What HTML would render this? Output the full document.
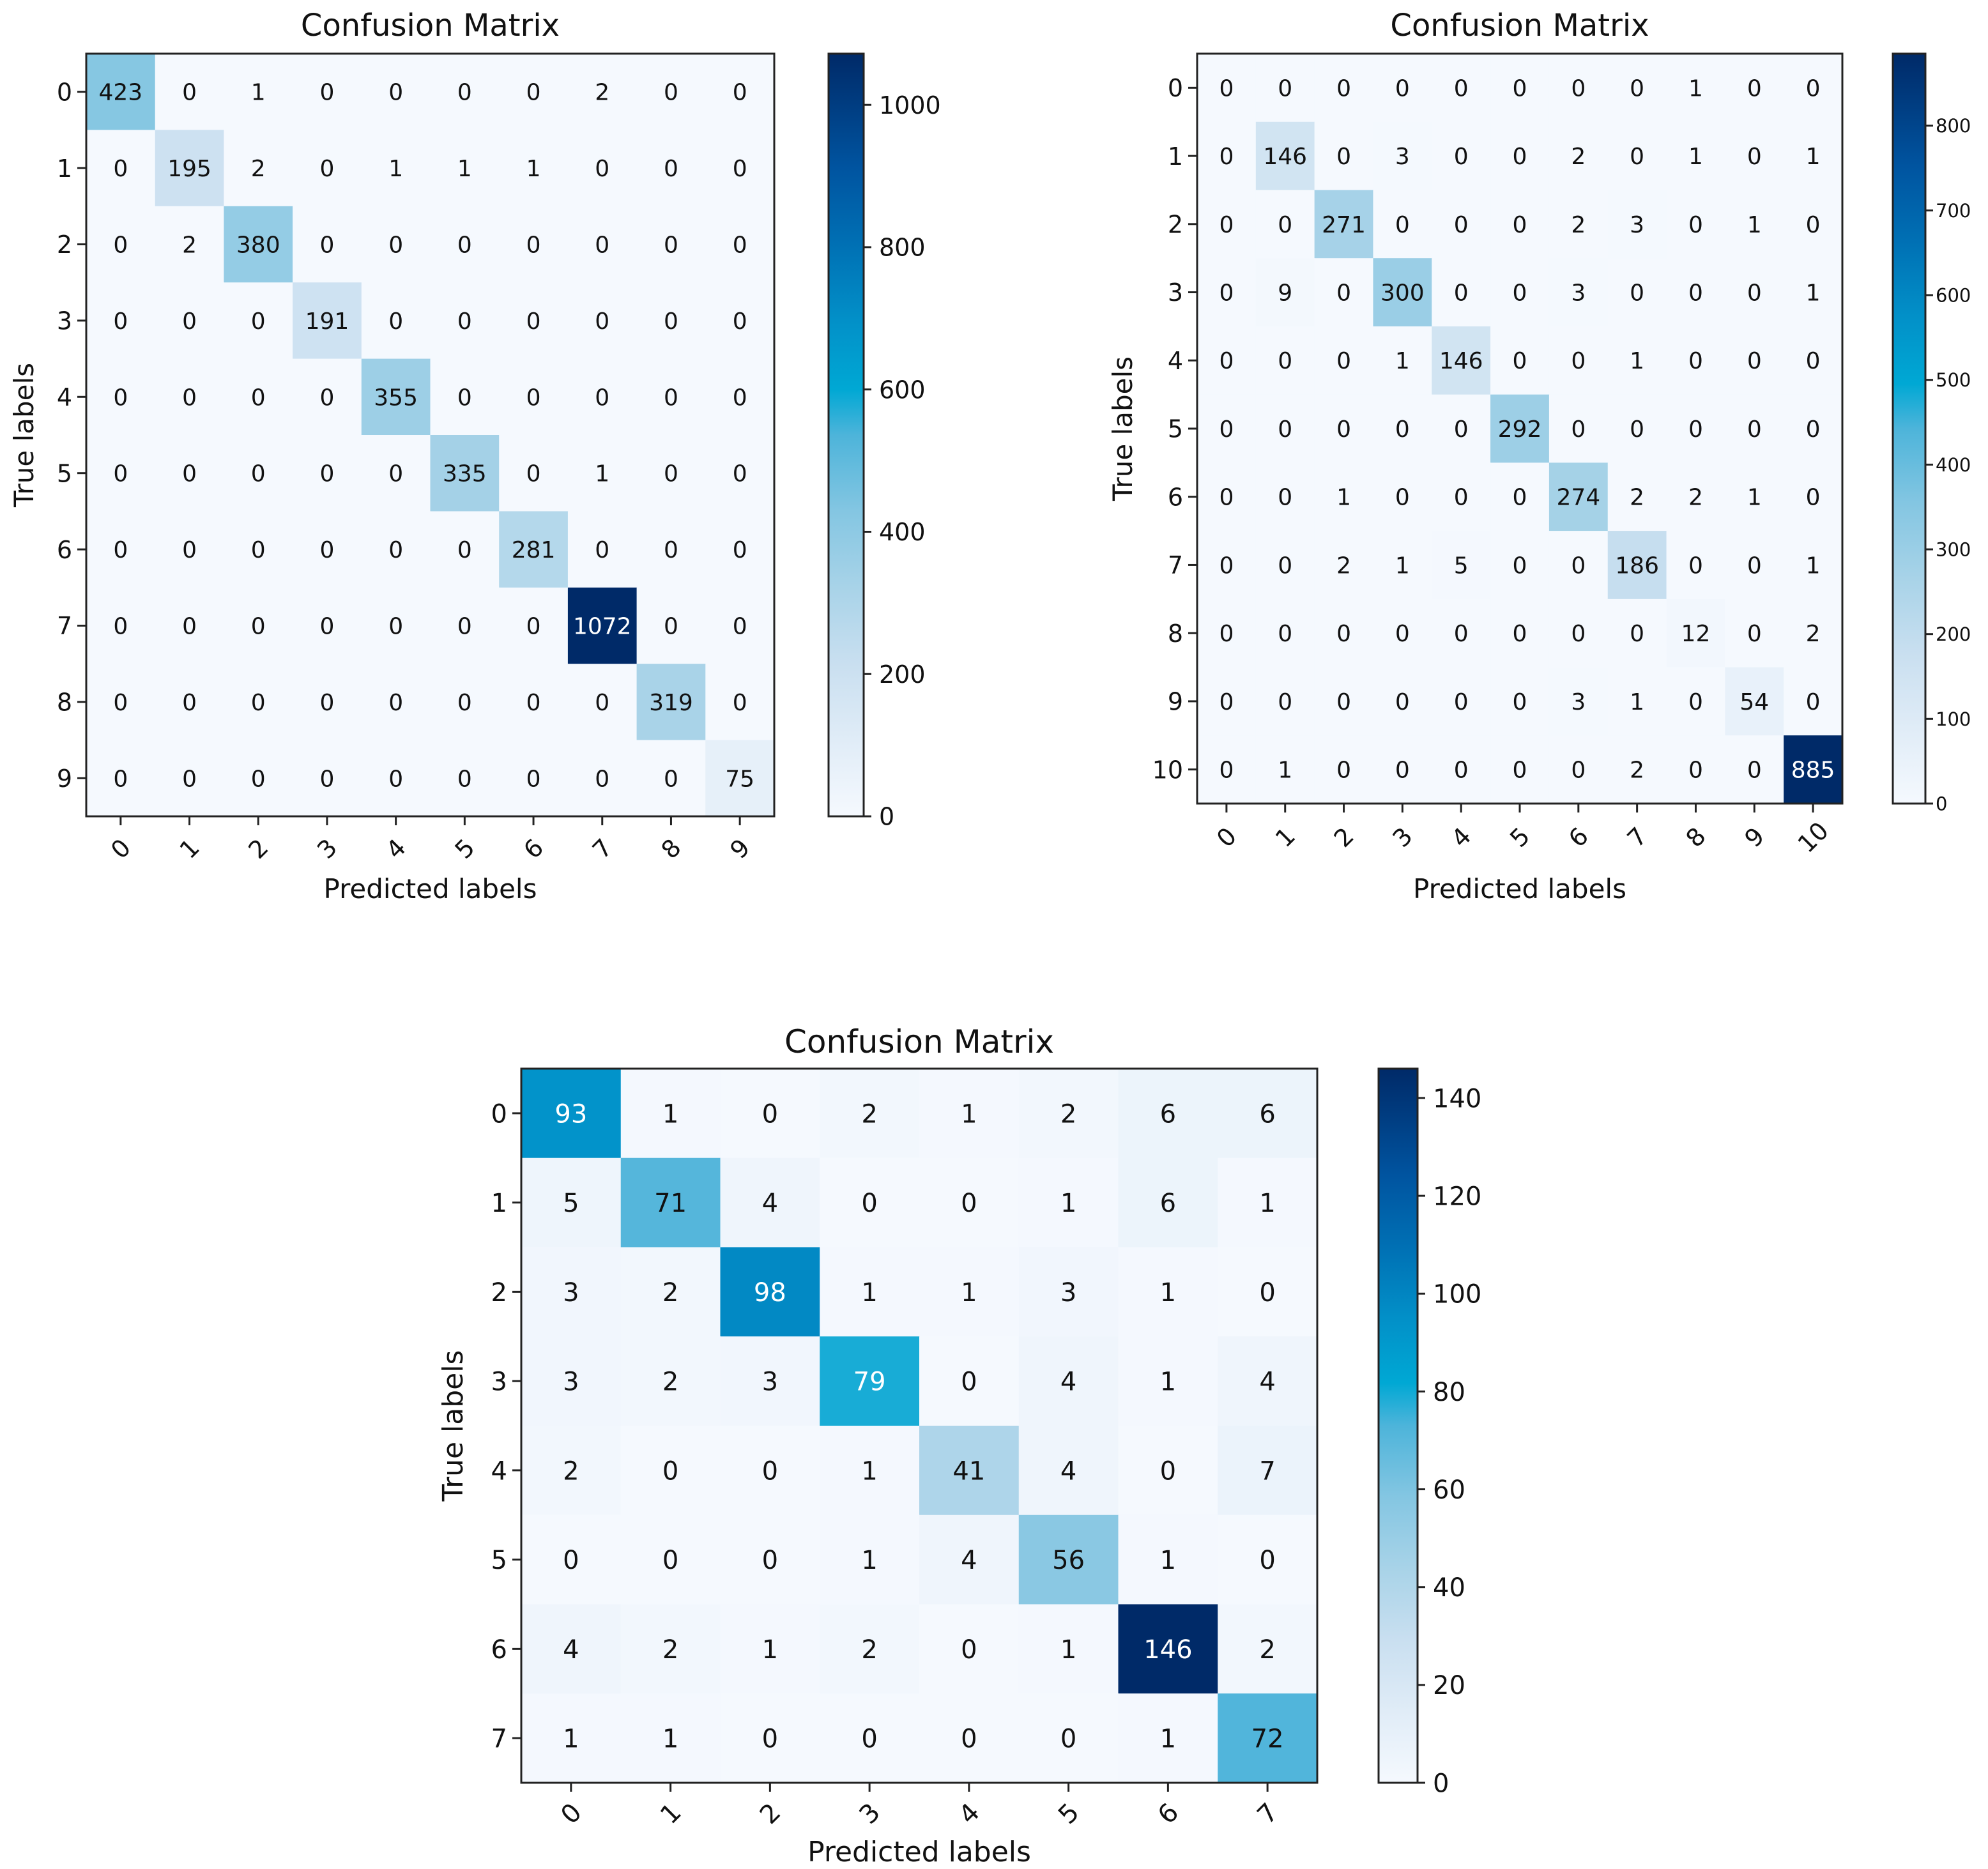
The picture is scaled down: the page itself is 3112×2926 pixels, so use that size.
<!DOCTYPE html>
<html><head><meta charset="utf-8">
<style>
html,body{margin:0;padding:0;background:#fff;}
svg{display:block;}
text{font-family:"DejaVu Sans","Liberation Sans",sans-serif;}
</style></head>
<body>
<svg id="root" width="3112" height="2926" viewBox="0 0 3112 2926" xmlns="http://www.w3.org/2000/svg">
<defs>
<linearGradient id="cmapgrad" x1="0" y1="1" x2="0" y2="0">
<stop offset="0" stop-color="#f5f9fe"/><stop offset="0.1" stop-color="#e0ecf7"/><stop offset="0.2" stop-color="#c9dff0"/>
<stop offset="0.3" stop-color="#a8d3e8"/><stop offset="0.4" stop-color="#84c6e2"/><stop offset="0.5" stop-color="#4db4da"/>
<stop offset="0.56" stop-color="#00a8d4"/><stop offset="0.65" stop-color="#0290c8"/><stop offset="0.75" stop-color="#0070b4"/>
<stop offset="0.85" stop-color="#0054a0"/><stop offset="1" stop-color="#002a68"/>
</linearGradient>
</defs>
</svg>
<script>
// ---- chart data ----
const labels1 = ["0","1","2","3","4","5","6","7","8","9"];
const matrix1 = [
[423,0,1,0,0,0,0,2,0,0],
[0,195,2,0,1,1,1,0,0,0],
[0,2,380,0,0,0,0,0,0,0],
[0,0,0,191,0,0,0,0,0,0],
[0,0,0,0,355,0,0,0,0,0],
[0,0,0,0,0,335,0,1,0,0],
[0,0,0,0,0,0,281,0,0,0],
[0,0,0,0,0,0,0,1072,0,0],
[0,0,0,0,0,0,0,0,319,0],
[0,0,0,0,0,0,0,0,0,75]];
const cbTicks1 = [0,200,400,600,800,1000];

const labels2 = ["0","1","2","3","4","5","6","7","8","9","10"];
const matrix2 = [
[0,0,0,0,0,0,0,0,1,0,0],
[0,146,0,3,0,0,2,0,1,0,1],
[0,0,271,0,0,0,2,3,0,1,0],
[0,9,0,300,0,0,3,0,0,0,1],
[0,0,0,1,146,0,0,1,0,0,0],
[0,0,0,0,0,292,0,0,0,0,0],
[0,0,1,0,0,0,274,2,2,1,0],
[0,0,2,1,5,0,0,186,0,0,1],
[0,0,0,0,0,0,0,0,12,0,2],
[0,0,0,0,0,0,3,1,0,54,0],
[0,1,0,0,0,0,0,2,0,0,885]];
const cbTicks2 = [0,100,200,300,400,500,600,700,800];

const labels3 = ["0","1","2","3","4","5","6","7"];
const matrix3 = [
[93,1,0,2,1,2,6,6],
[5,71,4,0,0,1,6,1],
[3,2,98,1,1,3,1,0],
[3,2,3,79,0,4,1,4],
[2,0,0,1,41,4,0,7],
[0,0,0,1,4,56,1,0],
[4,2,1,2,0,1,146,2],
[1,1,0,0,0,0,1,72]];
const cbTicks3 = [0,20,40,60,80,100,120,140];

const stops = [[0,[245,249,254]],[0.1,[224,236,247]],[0.2,[201,223,240]],[0.3,[168,211,232]],[0.4,[132,198,226]],[0.5,[77,180,218]],[0.56,[0,168,212]],[0.65,[2,144,200]],[0.75,[0,112,180]],[0.85,[0,84,160]],[1,[0,42,104]]];
function cmap(t){
  t=Math.max(0,Math.min(1,t));
  for(let i=1;i<stops.length;i++){
    if(t<=stops[i][0]){
      const a=stops[i-1],b=stops[i],f=(t-a[0])/(b[0]-a[0]);
      return "rgb("+a[1].map((v,k)=>Math.round(v+(b[1][k]-v)*f)).join(",")+")";
    }
  }
  return "rgb(0,42,104)";
}
const NS="http://www.w3.org/2000/svg";
const root=document.getElementById("root");
function mk(tag,attrs,parent,txt){
  const e=document.createElementNS(NS,tag);
  for(const k in attrs)e.setAttribute(k,attrs[k]);
  if(txt!==undefined)e.textContent=txt;
  (parent||root).appendChild(e);return e;
}
function drawChart(cfg){
  const {id,labels,matrix,cbTicks,box,cb,fs}=cfg;
  const g=mk("g",{});
  
  
  const n=labels.length;
  let vmax=0;matrix.forEach(r=>r.forEach(v=>{if(v>vmax)vmax=v;}));
  const cw=(box.x1-box.x0)/n, ch=(box.y1-box.y0)/n;
  const xs=i=>box.x0+i*cw, ys=j=>box.y0+j*ch;
  for(let r=0;r<n;r++)for(let c=0;c<n;c++){
    const v=matrix[r][c];
    const rc=mk("rect",{x:xs(c),y:ys(r),width:cw+0.6,height:ch+0.6,fill:cmap(v/vmax)},g);
    
    
    const t=mk("text",{x:xs(c)+cw/2,y:ys(r)+ch/2+fs.cell*0.36,"text-anchor":"middle","font-size":fs.cell,fill:v>vmax/2?"#fff":"#111"},g,String(v));
    
    
  }
  const fr=mk("rect",{x:box.x0,y:box.y0,width:box.x1-box.x0,height:box.y1-box.y0,fill:"none",stroke:"#222","stroke-width":3},g);
  
  
  for(let i=0;i<n;i++){
    mk("line",{x1:box.x0,x2:box.x0-14,y1:ys(i)+ch/2,y2:ys(i)+ch/2,stroke:"#222","stroke-width":3},g);
    const yl=mk("text",{x:box.x0-22,y:ys(i)+ch/2+fs.tick*0.36,"text-anchor":"end","font-size":fs.tick,fill:"#111"},g,labels[i]);
    
    
    const cx=xs(i)+cw/2;
    mk("line",{x1:cx,x2:cx,y1:box.y1,y2:box.y1+14,stroke:"#222","stroke-width":3},g);
    const ty=box.y1+fs.xoff;
    const xl=mk("text",{x:cx,y:ty,"text-anchor":"middle","font-size":fs.tick,fill:"#111",transform:"rotate(-45 "+cx+" "+(ty-fs.tick*0.35)+")"},g,labels[i]);
    
    
  }
  const midx=(box.x0+box.x1)/2;
  const tt=mk("text",{x:midx,y:cfg.titleY,"text-anchor":"middle","font-size":fs.title,fill:"#111"},g,"Confusion Matrix");
  
  
  const xt=mk("text",{x:midx,y:cfg.xlabY,"text-anchor":"middle","font-size":fs.label,fill:"#111"},g,"Predicted labels");
  
  
  const ymid=(box.y0+box.y1)/2;
  const yt=mk("text",{x:cfg.ylabX,y:ymid,"text-anchor":"middle","font-size":fs.label,fill:"#111",transform:"rotate(-90 "+cfg.ylabX+" "+ymid+")"},g,"True labels");
  
  
  // colorbar
  const cbr=mk("rect",{x:cb.x0,y:box.y0,width:cb.x1-cb.x0,height:box.y1-box.y0,fill:"url(#cmapgrad)",stroke:"#222","stroke-width":3},g);
  
  
  const cy=v=>box.y1-(v/vmax)*(box.y1-box.y0);
  cbTicks.forEach(v=>{
    mk("line",{x1:cb.x1,x2:cb.x1+12,y1:cy(v),y2:cy(v),stroke:"#222","stroke-width":3},g);
    const ct=mk("text",{x:cb.x1+fs.cbgap,y:cy(v)+fs.cb*0.36,"font-size":fs.cb,fill:"#111"},g,String(v));
    
    
  });
}
drawChart({id:"confusion-matrix-1",labels:labels1,matrix:matrix1,cbTicks:cbTicks1,
  box:{x0:135,x1:1212,y0:84,y1:1278},cb:{x0:1297,x1:1352},titleY:56,xlabY:1406,ylabX:52,
  fs:{cell:36,tick:38,cb:38,cbgap:24,title:48,label:42,xoff:64}});
drawChart({id:"confusion-matrix-2",labels:labels2,matrix:matrix2,cbTicks:cbTicks2,
  box:{x0:1874,x1:2884,y0:84,y1:1258},cb:{x0:2963,x1:3014},titleY:56,xlabY:1406,ylabX:1772,
  fs:{cell:36,tick:38,cb:29,cbgap:16,title:48,label:42,xoff:66}});
drawChart({id:"confusion-matrix-3",labels:labels3,matrix:matrix3,cbTicks:cbTicks3,
  box:{x0:816,x1:2062,y0:1673,y1:2791},cb:{x0:2158,x1:2219},titleY:1648,xlabY:2914,ylabX:724,
  fs:{cell:40,tick:40,cb:40,cbgap:24,title:50,label:44,xoff:62}});
</script>
</body></html>
